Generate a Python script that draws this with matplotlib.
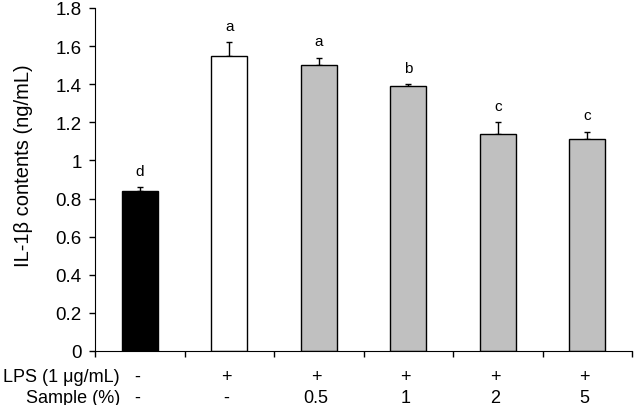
import numpy as np
import matplotlib.pyplot as plt

plt.rcParams['font.family'] = ['Liberation Sans', 'DejaVu Sans']

values = [0.84, 1.55, 1.50, 1.39, 1.14, 1.11]
errors = [0.02, 0.07, 0.04, 0.01, 0.06, 0.04]
letters = ['d', 'a', 'a', 'b', 'c', 'c']
colors = ['black', 'white', '#c0c0c0', '#c0c0c0', '#c0c0c0', '#c0c0c0']
lps_row = ['-', '+', '+', '+', '+', '+']
sample_row = ['-', '-', '0.5', '1', '2', '5']

fig = plt.figure(figsize=(6.39, 4.06), dpi=100)
ax = fig.add_axes([95/639, 1-352/406, 537/639, 343/406])

x = np.arange(len(values))
ax.bar(x, values, width=0.4, color=colors, edgecolor='black', linewidth=1.0, zorder=2)
ax.errorbar(x, values, yerr=[np.zeros(len(errors)), errors], fmt='none',
            ecolor='black', elinewidth=1.0, capsize=2.5, capthick=1.0, zorder=1)

# significance letters
for i in range(len(values)):
    ax.text(x[i], values[i] + errors[i] + 0.05, letters[i], ha='center', va='bottom', fontsize=11)

ax.set_xlim(-0.5, len(values) - 0.5)
ax.set_ylim(0, 1.8)
ax.set_yticks(np.arange(0, 1.81, 0.2))
ax.set_yticklabels(['0', '0.2', '0.4', '0.6', '0.8', '1', '1.2', '1.4', '1.6', '1.8'])
ax.set_xticks(np.arange(-0.5, len(values), 1.0))
ax.set_xticklabels([])
ax.tick_params(axis='both', direction='out', length=4.5, width=1, labelsize=13.5, pad=5)
ax.spines['top'].set_visible(False)
ax.spines['right'].set_visible(False)
ax.set_ylabel('IL-1β contents (ng/mL)', fontsize=14.5)
ax.yaxis.set_label_coords(-0.115, 0.542)

# treatment rows under the axis
tr = ax.get_xaxis_transform()
ax.text(-0.22, -0.073, 'LPS (1 μg/mL)', transform=tr, ha='right', va='center', fontsize=13)
ax.text(-0.22, -0.135, 'Sample (%)', transform=tr, ha='right', va='center', fontsize=13)
for i in range(len(values)):
    ax.text(x[i] - 0.03, -0.073, lps_row[i], transform=tr, ha='center', va='center', fontsize=13)
    ax.text(x[i] - 0.03, -0.135, sample_row[i], transform=tr, ha='center', va='center', fontsize=13)

fig.savefig('out.png', dpi=100)
